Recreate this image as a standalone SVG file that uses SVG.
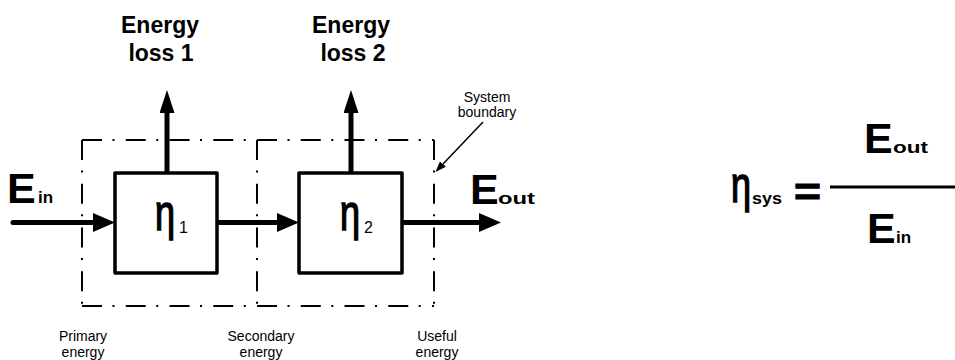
<svg xmlns="http://www.w3.org/2000/svg" width="955" height="360" viewBox="0 0 955 360">
<style>
  .bg{fill:#fff}
  .box{fill:#fff;stroke:#000;stroke-width:3.5;stroke-linejoin:round}
  .flow{fill:none;stroke:#000;stroke-width:5;stroke-linecap:round}
  .thin{fill:none;stroke:#000;stroke-width:1.5}
  .bnd{stroke:#000;stroke-width:2;stroke-dasharray:20 10.5 2 11.25;fill:none}
  .t{font-family:"Liberation Sans",Arial,sans-serif;fill:#000}
  .hd{font-size:23px;font-weight:bold;text-anchor:middle}
  .sm{font-size:14px;text-anchor:middle}
  .big{font-size:43px;font-weight:bold}
  .sub{font-size:17px;font-weight:bold}
  .eta{font-size:50px;stroke:#000;stroke-width:1.6}
  .eq{font-size:38px;font-weight:bold;stroke:#000;stroke-width:1}
  .num{font-size:16px}
</style>
<defs>
  <marker id="ah" viewBox="0 0 22 19" refX="0" refY="9.5" markerWidth="22" markerHeight="19" markerUnits="userSpaceOnUse" orient="auto">
    <path d="M0,0 L22,9.5 L0,19 Z" fill="#000"/>
  </marker>
  <marker id="av" viewBox="0 0 23 15" refX="0" refY="7.5" markerWidth="23" markerHeight="15" markerUnits="userSpaceOnUse" orient="auto">
    <path d="M0,0 L23,7.5 L0,15 Z" fill="#000"/>
  </marker>
  <marker id="ap" viewBox="0 0 11 8" refX="0" refY="4" markerWidth="11" markerHeight="8" markerUnits="userSpaceOnUse" orient="auto">
    <path d="M0,0 L11,4 L0,8 Z" fill="#000"/>
  </marker>
</defs>
<rect class="bg" x="0" y="0" width="955" height="360"/>

<g id="boundary">
  <line class="bnd" x1="82" y1="140" x2="257" y2="140"/>
  <line class="bnd" x1="82" y1="140" x2="82" y2="306"/>
  <line class="bnd" x1="82" y1="306" x2="257" y2="306"/>
  <line class="bnd" x1="257" y1="140" x2="257" y2="306"/>
  <line class="bnd" x1="257" y1="140" x2="434" y2="140"/>
  <line class="bnd" x1="257" y1="306" x2="434" y2="306"/>
  <line class="bnd" x1="434" y1="140" x2="434" y2="306"/>
</g>

<g id="connectors">
  <line class="flow" x1="13" y1="222.5" x2="93" y2="222.5" marker-end="url(#ah)"/>
  <line class="flow" x1="217" y1="222.5" x2="277" y2="222.5" marker-end="url(#ah)"/>
  <line class="flow" x1="402" y1="222.5" x2="479" y2="222.5" marker-end="url(#ah)"/>
  <line class="flow" x1="167" y1="173" x2="167" y2="113" marker-end="url(#av)"/>
  <line class="flow" x1="351" y1="173" x2="351" y2="113" marker-end="url(#av)"/>
  <line class="thin" x1="483" y1="122" x2="443" y2="164" marker-end="url(#ap)"/>
</g>

<g id="box1">
  <rect class="box" x="115" y="173" width="102" height="100"/>
  <text class="t eta" transform="translate(155,230) scale(0.72,1)">η</text>
  <text class="t num" x="179" y="233">1</text>
</g>

<g id="box2">
  <rect class="box" x="299" y="173" width="103" height="100"/>
  <text class="t eta" transform="translate(340,230) scale(0.72,1)">η</text>
  <text class="t num" x="364" y="233">2</text>
</g>

<g id="loss1">
  <text class="t hd" x="160" y="33">Energy</text>
  <text class="t hd" x="161" y="61">loss 1</text>
</g>
<g id="loss2">
  <text class="t hd" x="351" y="33">Energy</text>
  <text class="t hd" x="353" y="61">loss 2</text>
</g>

<g id="ein">
  <text class="t big" x="7" y="203">E</text>
  <text class="t sub" x="38" y="203">in</text>
</g>
<g id="eout">
  <text class="t big" x="470" y="204">E</text>
  <text class="t sub" x="498" y="204" textLength="37" lengthAdjust="spacingAndGlyphs">out</text>
</g>

<g id="system-boundary-label">
  <text class="t sm" x="487" y="102">System</text>
  <text class="t sm" x="487" y="117">boundary</text>
</g>

<g id="bottom-labels">
  <text class="t sm" x="83" y="341">Primary</text>
  <text class="t sm" x="83" y="357">energy</text>
  <text class="t sm" x="261" y="341">Secondary</text>
  <text class="t sm" x="261" y="357">energy</text>
  <text class="t sm" x="437" y="341">Useful</text>
  <text class="t sm" x="437" y="357">energy</text>
</g>

<g id="formula">
  <text class="t eta" transform="translate(731,202) scale(0.72,1)">η</text>
  <text class="t sub" x="752" y="204" textLength="30" lengthAdjust="spacingAndGlyphs">sys</text>
  <text class="t eq" x="794" y="205" textLength="27" lengthAdjust="spacingAndGlyphs">=</text>
  <line x1="830" y1="187" x2="955" y2="187" stroke="#000" stroke-width="3"/>
  <text class="t big" x="864" y="153">E</text>
  <text class="t sub" x="893" y="153" textLength="35" lengthAdjust="spacingAndGlyphs">out</text>
  <text class="t big" x="867" y="243">E</text>
  <text class="t sub" x="896" y="243">in</text>
</g>
</svg>
